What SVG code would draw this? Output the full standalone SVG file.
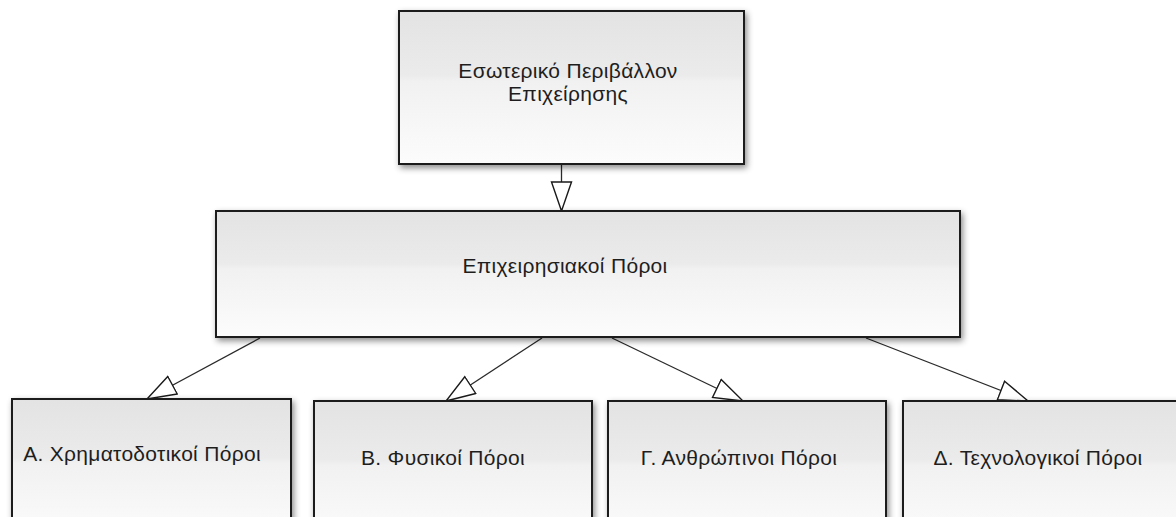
<svg xmlns="http://www.w3.org/2000/svg" width="1176" height="517" viewBox="0 0 1176 517">
<style>
.box{fill:url(#g);stroke:#1a1a1a;stroke-width:2;filter:url(#sh)}
.lbl{font-family:"Liberation Sans",Arial,sans-serif;font-size:21px;letter-spacing:0.3px;fill:#1e1e1e;text-anchor:middle}
.con{stroke:#2a2a2a;stroke-width:1.3;fill:none;marker-end:url(#arr)}
</style>
<defs>
<linearGradient id="g" x1="0" y1="0" x2="0" y2="1">
<stop offset="0" stop-color="#e3e3e3"/>
<stop offset="0.42" stop-color="#ebebeb"/>
<stop offset="0.46" stop-color="#f1f1f1"/>
<stop offset="1" stop-color="#fcfcfc"/>
</linearGradient>
<filter id="sh" x="-10%" y="-10%" width="120%" height="130%">
<feDropShadow dx="2" dy="3" stdDeviation="3" flood-color="#000" flood-opacity="0.45"/>
</filter>
<marker id="arr" markerUnits="userSpaceOnUse" markerWidth="32" markerHeight="24" refX="29" refY="10" orient="auto" viewBox="-1 -1 32 24">
<path d="M0,0 L29,10 L0,20 Z" fill="#fff" stroke="#1a1a1a" stroke-width="1.4" stroke-linejoin="miter"/>
</marker>
</defs>
<g id="connectors">
<path class="con" d="M561.5,165 L561.5,211"/>
<path class="con" d="M260,338 L147,399"/>
<path class="con" d="M542,338 L446,401"/>
<path class="con" d="M612,338 L743,401"/>
<path class="con" d="M866,338 L1028,401"/>
</g>
<g id="node-top">
<rect class="box" x="399" y="11" width="345" height="153"/>
<text class="lbl" x="568" y="78">Εσωτερικό Περιβάλλον</text>
<text class="lbl" x="568" y="101">Επιχείρησης</text>
</g>
<g id="node-mid">
<rect class="box" x="216" y="211" width="744" height="126"/>
<text class="lbl" x="565" y="273">Επιχειρησιακοί Πόροι</text>
</g>
<g id="node-a">
<rect class="box" x="12" y="399" width="279" height="140"/>
<text class="lbl" x="142" y="461">Α. Χρηματοδοτικοί Πόροι</text>
</g>
<g id="node-b">
<rect class="box" x="314" y="401" width="278" height="140"/>
<text class="lbl" x="443" y="465">Β. Φυσικοί Πόροι</text>
</g>
<g id="node-c">
<rect class="box" x="608" y="401" width="278" height="140"/>
<text class="lbl" x="739" y="465">Γ. Ανθρώπινοι Πόροι</text>
</g>
<g id="node-d">
<rect class="box" x="903" y="401" width="300" height="140"/>
<text class="lbl" x="1038" y="465">Δ. Τεχνολογικοί Πόροι</text>
</g>
</svg>
